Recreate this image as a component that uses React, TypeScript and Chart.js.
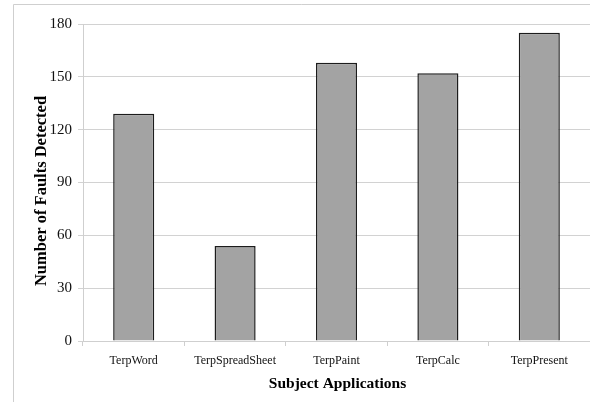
import React, { useEffect, useRef } from "react";
import { Chart, registerables } from "chart.js";

Chart.register(...registerables);

const categories = ["TerpWord", "TerpSpreadSheet", "TerpPaint", "TerpCalc", "TerpPresent"];
const faults = [129, 54, 158, 152, 175];
const yTicks = [0, 30, 60, 90, 120, 150, 180];
const xTitle = "Subject Applications";
const yTitle = "Number of Faults Detected";

const FONT = "'Liberation Serif', 'Times New Roman', serif";

const framePlugin = {
  id: "frameAndTitles",
  beforeDraw(chart: any) {
    const ctx = chart.ctx;
    ctx.save();
    ctx.strokeStyle = "#cfcfcf";
    ctx.lineWidth = 1;
    ctx.beginPath();
    ctx.moveTo(13.5, 402);
    ctx.lineTo(13.5, 4.5);
    ctx.lineTo(590, 4.5);
    ctx.stroke();
    ctx.restore();
  },
  afterDraw(chart: any) {
    const ctx = chart.ctx;
    const area = chart.chartArea;
    ctx.save();
    ctx.fillStyle = "#000";
    ctx.textAlign = "center";
    ctx.textBaseline = "middle";
    ctx.font = `bold 15.5px ${FONT}`;
    ctx.fillText(xTitle, (area.left + area.right) / 2 + 1, 384);
    ctx.translate(42, 191);
    ctx.rotate(-Math.PI / 2);
    ctx.font = `bold 16.5px ${FONT}`;
    ctx.fillText(yTitle, 0, 0);
    ctx.restore();
  },
};

export default function App() {
  const ref = useRef<HTMLCanvasElement>(null);
  useEffect(() => {
    if (!ref.current) return;
    const chart = new Chart(ref.current, {
      type: "bar",
      data: {
        labels: categories,
        datasets: [
          {
            data: faults,
            backgroundColor: "#a3a3a3",
            borderColor: "#1c1c1c",
            borderWidth: 1.5,
            barPercentage: 0.405,
            categoryPercentage: 1,
          },
        ],
      },
      options: {
        animation: false,
        responsive: false,
        maintainAspectRatio: false,
        layout: { padding: { top: 24, right: 0, bottom: 0, left: 0 } },
        plugins: { legend: { display: false }, tooltip: { enabled: false } },
        scales: {
          x: {
            offset: true,
            grid: {
              offset: true,
              drawOnChartArea: false,
              drawTicks: true,
              tickLength: 5,
              color: "#cfcfcf",
            },
            border: { display: true, color: "#cfcfcf" },
            ticks: {
              color: "#111",
              font: { family: FONT, size: 12 },
              padding: 8,
              maxRotation: 0,
              autoSkip: false,
            },
            afterFit(scale: any) {
              scale.height = 61;
            },
          },
          y: {
            min: 0,
            max: 180,
            afterBuildTicks(scale: any) {
              scale.ticks = yTicks.map((v) => ({ value: v }));
            },
            grid: { color: "#d2d2d2", tickLength: 5, drawTicks: true },
            border: { display: true, color: "#cfcfcf" },
            ticks: {
              color: "#111",
              font: { family: FONT, size: 15 },
              padding: 6,
            },
            afterFit(scale: any) {
              scale.width = 83;
            },
          },
        },
      },
      plugins: [framePlugin],
    } as any);
    return () => chart.destroy();
  }, []);
  return (
    <div style={{ position: "absolute", left: 0, top: 0, width: 590, height: 402, background: "#fff" }}>
      <canvas ref={ref} width={590} height={402} style={{ display: "block", width: 590, height: 402 }} />
    </div>
  );
}
